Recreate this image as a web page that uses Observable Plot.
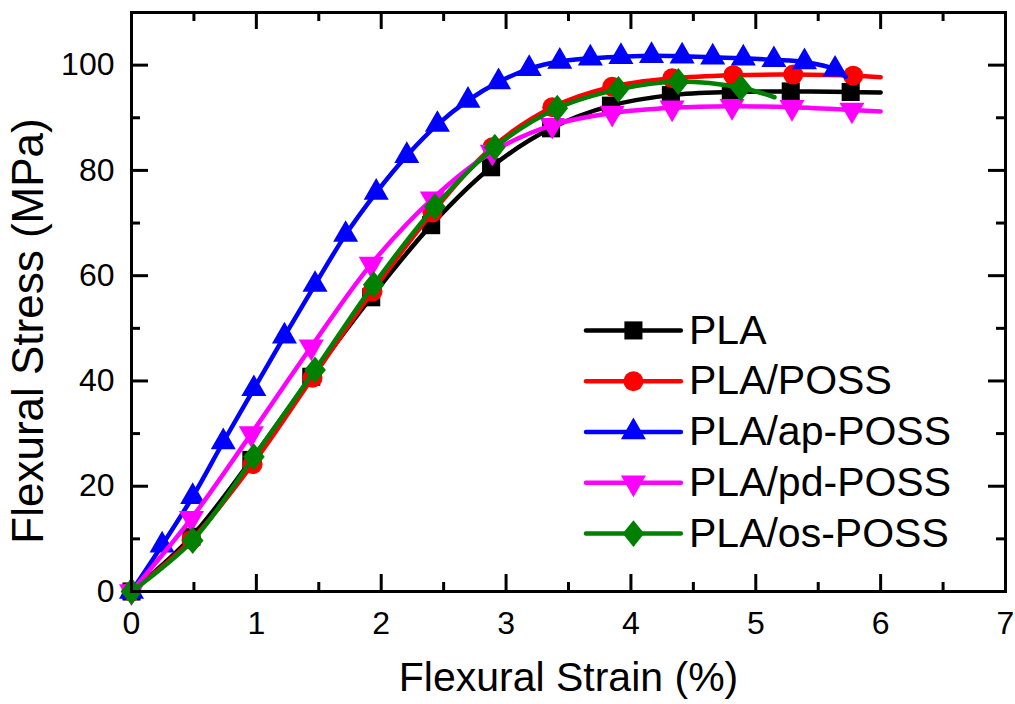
<!DOCTYPE html>
<html>
<head>
<meta charset="utf-8">
<script src="https://cdn.jsdelivr.net/npm/d3@7"></script>
<script src="https://cdn.jsdelivr.net/npm/@observablehq/plot@0.6"></script>
<style>body{margin:0;background:#fff}</style>
</head>
<body>
<div id="chart"></div>
<script>
// ---------- data ----------
const seriesNames = ["PLA", "PLA/POSS", "PLA/ap-POSS", "PLA/pd-POSS", "PLA/os-POSS"];
const seriesColors = ["#000000", "#ff0000", "#0000ff", "#ff00ff", "#008000"];

// last point of each series is the line end (no marker)
const strainPLA = [0, 0.48, 0.96, 1.44, 1.92, 2.40, 2.88, 3.36, 3.84, 4.32, 4.80, 5.28, 5.76, 6.00];
const stressPLA = [0, 10.4, 25.0, 40.8, 55.9, 69.6, 80.6, 88.0, 92.3, 94.3, 94.9, 95.0, 94.9, 94.8];

const strainPOSS = [0, 0.48, 0.97, 1.45, 1.93, 2.41, 2.89, 3.37, 3.85, 4.33, 4.82, 5.30, 5.78, 6.00];
const stressPOSS = [0, 9.8, 24.2, 40.6, 57.0, 72.0, 84.4, 92.0, 95.9, 97.5, 98.1, 98.2, 98.0, 97.7];

const strainAP = [0, 0.245, 0.49, 0.735, 0.98, 1.225, 1.47, 1.715, 1.96, 2.205, 2.45, 2.695, 2.94, 3.185, 3.43, 3.675, 3.92, 4.165, 4.41, 4.655, 4.90, 5.145, 5.39, 5.635, 5.72];
const stressAP = [0, 8.8, 18.0, 28.4, 38.5, 48.5, 58.3, 67.8, 75.8, 82.8, 88.7, 93.3, 96.8, 99.3, 100.7, 101.3, 101.6, 101.8, 101.7, 101.5, 101.3, 101.0, 100.6, 99.2, 97.8];

const strainPD = [0, 0.48, 0.96, 1.44, 1.92, 2.41, 2.89, 3.37, 3.85, 4.33, 4.81, 5.29, 5.77, 6.00];
const stressPD = [0, 13.9, 30.0, 46.5, 62.2, 74.6, 83.5, 88.6, 90.9, 91.9, 92.2, 92.0, 91.5, 91.2];

const strainOS = [0, 0.49, 0.98, 1.47, 1.94, 2.43, 2.91, 3.41, 3.90, 4.38, 4.88, 5.15];
const stressOS = [0, 9.7, 25.6, 42.1, 58.3, 73.1, 84.4, 91.8, 95.4, 96.9, 95.7, 93.9];

const xMajorTicks = [0, 1, 2, 3, 4, 5, 6, 7];
const xMinorTicks = [0.5, 1.5, 2.5, 3.5, 4.5, 5.5, 6.5];
const yMajorTicks = [0, 20, 40, 60, 80, 100];
const yMinorTicks = [10, 30, 50, 70, 90];

const xTitle = "Flexural Strain (%)";
const yTitle = "Flexural Stress (MPa)";

// ---------- build ----------
const strains = [strainPLA, strainPOSS, strainAP, strainPD, strainOS];
const stresses = [stressPLA, stressPOSS, stressAP, stressPD, stressOS];

const diamond = {
  draw(ctx, size) {
    const s = Math.sqrt(size);
    const hx = 0.61 * s, hy = 0.76 * s;
    ctx.moveTo(0, -hy); ctx.lineTo(hx, 0); ctx.lineTo(0, hy); ctx.lineTo(-hx, 0); ctx.closePath();
  }
};
const symbols = [
  {symbol: "square", r: 10.2, rotate: 0},
  {symbol: "circle", r: 10, rotate: 0},
  {symbol: "triangle", r: 9.3, rotate: 0},
  {symbol: "triangle", r: 9.3, rotate: 180},
  {symbol: diamond, r: 10, rotate: 0}
];

const W = 1015, H = 704;
const mL = 131, mR = 10, mT = 12, mB = 113;
const innerW = W - mL - mR, innerH = H - mT - mB;
const font = "'Liberation Sans', Arial, Helvetica, sans-serif";

const marks = [];
seriesNames.forEach((name, i) => {
  const rows = strains[i].map((s, j) => ({series: name, strain: s, stress: stresses[i][j], last: j === strains[i].length - 1}));
  marks.push(Plot.line(rows, {x: "strain", y: "stress", stroke: seriesColors[i], strokeWidth: 4.5, curve: "catmull-rom", strokeLinejoin: "round", strokeLinecap: "round"}));
  marks.push(Plot.dot(rows.filter(d => !d.last), {x: "strain", y: "stress", fill: seriesColors[i], stroke: "none", symbol: symbols[i].symbol, r: symbols[i].r, rotate: symbols[i].rotate}));
});

// legend (layout in data units)
const legX0 = 3.64, legX1 = 4.40, legXm = 4.02, legXt = 4.465, legY0 = 49.6, legStep = 9.65;
seriesNames.forEach((name, i) => {
  const yL = legY0 - i * legStep;
  marks.push(Plot.line([{x: legX0, y: yL}, {x: legX1, y: yL}], {x: "x", y: "y", stroke: seriesColors[i], strokeWidth: 4.5, strokeLinecap: "round"}));
  marks.push(Plot.dot([{x: legXm, y: yL}], {x: "x", y: "y", fill: seriesColors[i], stroke: "none", symbol: symbols[i].symbol, r: symbols[i].r, rotate: symbols[i].rotate}));
  marks.push(Plot.text([{x: legXt, y: yL, t: name}], {x: "x", y: "y", text: "t", textAnchor: "start", lineAnchor: "middle", fontSize: 41, fill: "#000"}));
});

// ticks (inward, all four sides)
const majorLen = 17, minorLen = 9;
marks.push(
  Plot.tickX(xMajorTicks, {x: d => d, insetTop: innerH - majorLen, strokeWidth: 3, stroke: "#000"}),
  Plot.tickX(xMajorTicks, {x: d => d, insetBottom: innerH - majorLen, strokeWidth: 3, stroke: "#000"}),
  Plot.tickX(xMinorTicks, {x: d => d, insetTop: innerH - minorLen, strokeWidth: 3, stroke: "#000"}),
  Plot.tickX(xMinorTicks, {x: d => d, insetBottom: innerH - minorLen, strokeWidth: 3, stroke: "#000"}),
  Plot.tickY(yMajorTicks, {y: d => d, insetRight: innerW - majorLen, strokeWidth: 3, stroke: "#000"}),
  Plot.tickY(yMajorTicks, {y: d => d, insetLeft: innerW - majorLen, strokeWidth: 3, stroke: "#000"}),
  Plot.tickY(yMinorTicks, {y: d => d, insetRight: innerW - minorLen, strokeWidth: 3, stroke: "#000"}),
  Plot.tickY(yMinorTicks, {y: d => d, insetLeft: innerW - minorLen, strokeWidth: 3, stroke: "#000"}),
  Plot.frame({stroke: "#000", strokeWidth: 3}),
  Plot.axisX({ticks: xMajorTicks, tickSize: 0, tickPadding: 20, tickFormat: d => String(d), label: null, fontSize: 32}),
  Plot.axisY({ticks: yMajorTicks, tickSize: 0, tickPadding: 17, tickFormat: d => String(d), label: null, fontSize: 32}),
  Plot.text([xTitle], {text: d => d, frameAnchor: "bottom", textAnchor: "middle", lineAnchor: "bottom", dy: 99, fontSize: 41, fill: "#000"}),
  Plot.text([yTitle], {text: d => d, frameAnchor: "left", textAnchor: "middle", rotate: -90, lineAnchor: "bottom", dx: -89, dy: 29, fontSize: 44, fill: "#000"})
);

const chart = Plot.plot({
  width: W, height: H,
  marginLeft: mL, marginRight: mR, marginTop: mT, marginBottom: mB,
  x: {domain: [0, 7]},
  y: {domain: [0, 110]},
  style: {fontFamily: font, background: "#fff", color: "#000"},
  marks
});
document.getElementById("chart").appendChild(chart);
</script>
</body>
</html>
